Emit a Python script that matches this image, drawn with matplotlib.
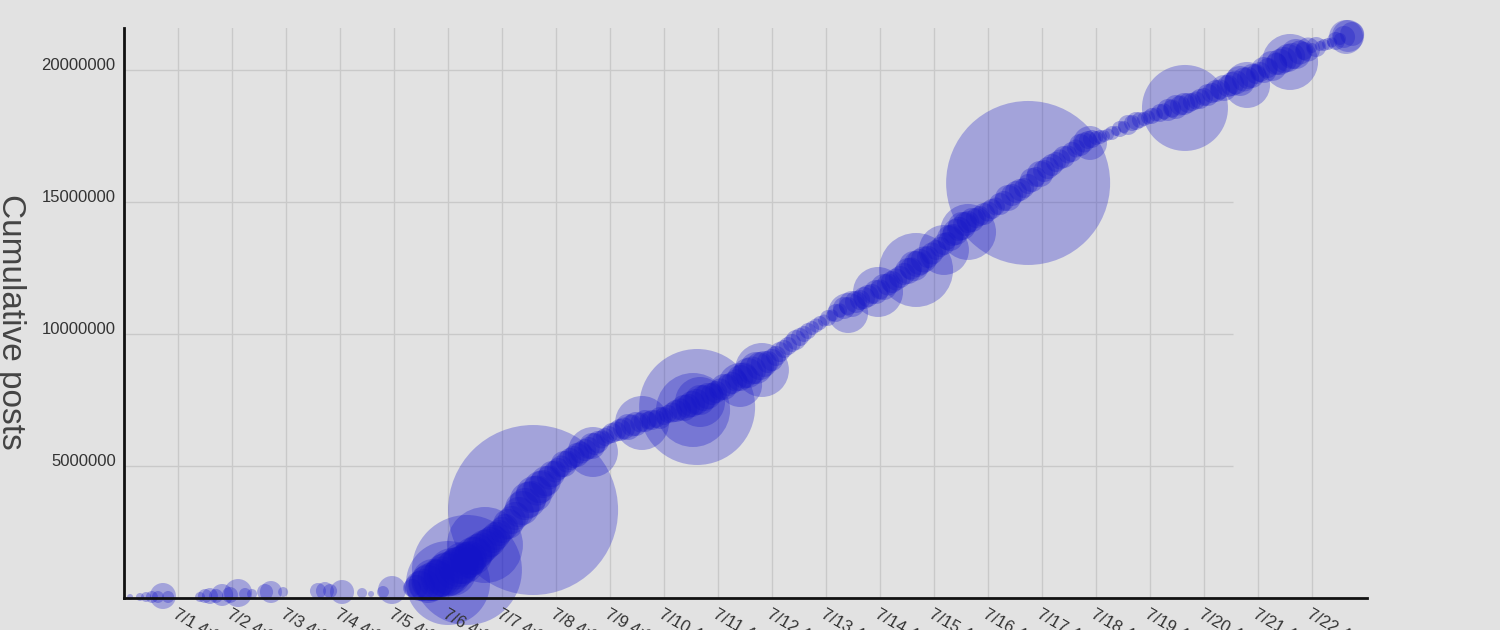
import matplotlib
matplotlib.use("Agg")
import matplotlib.pyplot as plt
import numpy as np

# ---- data: hours since 7/1 00:00, cumulative posts, bubble radius (px) ----
hours = [
    -17.3, -12.9, -10.2, -7.6, -4.9, -2.7, -0.4, 13.8, 16.0, 18.2, 20.9, 23.6, 27.1, 30.7,
    33.8, 36.9, 42.7, 45.3, 50.7, 66.2, 69.3, 71.6, 76.9, 85.8, 89.8, 95.1, 99.1,
    108.0, 111.6, 115.1, 117.3, 120.4, 123.1, 125.8, 128.4, 130.7, 132.9, 135.1, 137.3,
    140.0, 142.7, 145.3, 148.0, 150.7, 153.8, 156.9, 159.5, 162.2, 164.9, 167.5, 170.2,
    172.9, 175.5, 178.2, 181.3, 184.9, 188.0, 190.6, 193.8, 196.9, 200.4, 204.0, 207.5,
    211.5, 214.6, 218.2, 221.8, 225.3, 228.9, 232.4, 236.0, 239.5, 243.1, 246.6, 250.2,
    253.8, 257.3, 260.9, 264.4, 268.0, 271.5, 275.1, 278.6, 282.2, 285.8, 289.3, 292.9,
    296.4, 300.0, 303.5, 307.1, 310.6, 314.2, 317.7, 321.3, 324.9, 328.4, 331.1, 333.7,
    337.3, 340.9, 344.4, 347.1, 349.7, 352.4, 355.1, 358.6, 362.2, 365.7, 369.3, 372.9,
    376.4, 380.0, 383.5, 387.1, 390.6, 394.2, 397.7, 401.3, 404.9, 408.4, 412.0, 415.5,
    419.1, 422.6, 426.2, 429.7, 433.3, 436.8, 440.4, 444.0, 447.5, 451.1, 454.6, 458.2,
    461.7, 465.3, 468.8, 472.4, 476.0, 479.5, 483.1, 486.6, 490.2, 493.7, 497.3, 500.8,
    504.4, 508.0, 511.5, 515.1, 518.6, 522.2, 524.0, 525.8,
]
cum_posts = [
    38000, 38000, 38000, 38000, 38000, 76000, 38000, 38000, 76000, 76000, 76000, 114000,
    114000, 189000, 152000, 152000, 227000, 227000, 227000, 265000, 265000, 265000, 227000,
    189000, 152000, 227000, 303000,
    379000, 455000, 530000, 682000, 758000, 871000, 985000, 1174000, 1326000, 1439000,
    1591000, 1780000, 1970000, 2121000, 2348000, 2576000, 2803000, 3106000, 3409000,
    3712000, 3939000, 4205000, 4432000, 4697000, 4886000, 5076000, 5265000, 5417000,
    5606000, 5758000, 5909000, 6099000, 6250000, 6364000, 6477000, 6591000, 6705000,
    6742000, 6818000, 6970000, 7083000, 7197000, 7349000, 7500000, 7652000, 7803000,
    7992000, 8144000, 8333000, 8523000, 8712000, 8864000, 9015000, 9318000, 9545000,
    9773000, 10000000, 10227000, 10417000, 10606000, 10795000, 10985000, 11136000,
    11288000, 11439000, 11591000, 11780000, 11970000, 12159000, 12386000, 12576000,
    12727000, 12917000, 13182000, 13409000, 13636000, 13864000, 14091000, 14242000,
    14394000, 14546000, 14735000, 14924000, 15152000, 15379000, 15530000, 15833000,
    16061000, 16288000, 16515000, 16705000, 16894000, 17159000, 17349000, 17424000,
    17500000, 17614000, 17765000, 17917000, 18068000, 18144000, 18258000, 18371000,
    18485000, 18599000, 18712000, 18788000, 18902000, 19053000, 19205000, 19318000,
    19470000, 19583000, 19697000, 19849000, 20000000, 20152000, 20303000, 20455000,
    20606000, 20720000, 20833000, 20909000, 20985000, 21099000, 21250000, 21288000,
    21364000,
]
bubble_r = [
    3, 4, 5, 6, 6, 13, 6, 5, 7, 8, 7, 11, 8, 14, 6, 5, 8, 11, 5, 8, 9, 7, 12, 5, 3, 6, 14,
    9, 15, 19, 21, 19, 22, 24, 20, 21, 18, 19, 17, 16, 15, 14, 13, 15, 14, 17, 18, 18,
    16, 15, 13, 11, 13, 11, 12, 11, 13, 11, 9, 10, 11, 13, 12, 11, 10, 11, 9, 11, 13, 13,
    15, 13, 11, 13, 11, 13, 15, 16, 13, 11, 10, 9, 10, 8, 7, 7, 8, 9, 11, 13, 10, 11, 12,
    13, 11, 11, 13, 15, 13, 11, 10, 11, 13, 13, 14, 11, 10, 11, 10, 11, 13, 11, 10, 12, 13,
    11, 10, 11, 10, 11, 9, 7, 6, 7, 8, 10, 9, 7, 8, 9, 11, 12, 11, 9, 10, 11, 11, 13, 12, 15,
    11, 10, 13, 15, 13, 14, 15, 9, 5, 5, 6, 9, 11, 16, 12,
]

# in-between hours along the busy stretch
mid_hours = [
    109.8, 113.4, 116.2, 118.9, 121.8, 124.5, 127.1, 129.6, 131.8, 134.0,
    136.2, 138.7, 141.4, 144.0, 146.7, 149.4, 152.3, 155.4, 158.2, 160.9,
    163.6, 166.2, 168.9, 171.6, 174.2, 176.9, 179.8, 183.1, 186.5, 189.3,
    192.2, 195.4, 198.7, 202.2, 205.8, 209.5, 213.1, 216.4, 220.0, 223.6,
    227.1, 230.7, 234.2, 237.8, 241.3, 244.9, 248.4, 252.0, 255.6, 259.1,
    262.7, 266.2, 269.8, 273.3, 276.9, 280.4, 284.0, 287.6, 291.1, 294.7,
    298.2, 301.8, 305.3, 308.9, 312.4, 316.0, 319.5, 323.1, 326.7, 329.8,
    332.4, 335.5, 339.1, 342.7, 345.8, 348.4, 351.1, 353.8, 356.9, 360.4,
    364.0, 367.5, 371.1, 374.7, 378.2, 381.8, 385.3, 388.9, 392.4, 396.0,
    399.5, 403.1, 406.7, 410.2, 413.8, 417.3, 420.9, 424.4, 428.0, 431.5,
    435.1, 438.6, 442.2, 445.8, 449.3, 452.9, 456.4, 460.0, 463.5, 467.1,
    470.6, 474.2, 477.8, 481.3, 484.9, 488.4, 492.0, 495.5, 499.1, 502.6,
    506.2, 509.8, 513.3, 516.9, 520.4,
]
mid_posts = [
    417000, 492000, 606000, 720000, 815000, 928000, 1080000, 1250000, 1383000, 1515000,
    1686000, 1875000, 2046000, 2235000, 2462000, 2690000, 2955000, 3258000, 3561000, 3826000,
    4072000, 4318000, 4565000, 4792000, 4981000, 5171000, 5341000, 5512000, 5682000, 5833000,
    6004000, 6175000, 6307000, 6420000, 6534000, 6648000, 6724000, 6780000, 6894000, 7027000,
    7140000, 7273000, 7424000, 7576000, 7727000, 7898000, 8068000, 8239000, 8428000, 8617000,
    8788000, 8939000, 9167000, 9432000, 9659000, 9886000, 10114000, 10322000, 10511000, 10700000,
    10890000, 11061000, 11212000, 11364000, 11515000, 11686000, 11875000, 12065000, 12273000, 12481000,
    12652000, 12822000, 13050000, 13296000, 13523000, 13750000, 13977000, 14167000, 14318000, 14470000,
    14640000, 14830000, 15038000, 15265000, 15455000, 15682000, 15947000, 16174000, 16402000, 16610000,
    16800000, 17027000, 17254000, 17387000, 17462000, 17557000, 17690000, 17841000, 17992000, 18106000,
    18201000, 18314000, 18428000, 18542000, 18655000, 18750000, 18845000, 18977000, 19129000, 19262000,
    19394000, 19527000, 19640000, 19773000, 19924000, 20076000, 20227000, 20379000, 20530000, 20663000,
    20776000, 20871000, 20947000, 21042000, 21174000,
]
mid_r = [
    12, 16, 19, 19, 20, 22, 20, 19, 18, 17,
    17, 16, 15, 14, 13, 13, 14, 15, 16, 16,
    15, 14, 12, 11, 11, 11, 11, 11, 11, 11,
    9, 9, 10, 11, 11, 10, 9, 9, 9, 10,
    11, 12, 13, 13, 11, 11, 11, 11, 13, 14,
    14, 11, 10, 9, 9, 9, 8, 7, 6, 6,
    7, 9, 11, 11, 10, 10, 11, 11, 11, 11,
    13, 13, 11, 10, 9, 11, 12, 12, 12, 10,
    10, 9, 10, 11, 11, 10, 10, 11, 11, 10,
    9, 9, 10, 9, 7, 6, 5, 6, 8, 8,
    7, 7, 8, 9, 10, 10, 9, 9, 10, 10,
    11, 12, 12, 12, 10, 10, 11, 13, 13, 12,
    12, 10, 6, 5, 6,
]

# large, sparse bursts
burst_hours = [161.8, 132.4, 124.0, 140.4, 188.4, 210.2, 234.7, 232.9, 236.0, 253.8,
               263.5, 301.8, 315.1, 332.0, 344.4, 355.1, 381.8, 409.3, 451.5, 479.1,
               498.2, 523.1]
burst_posts = [3333000, 1061000, 568000, 2008000, 5530000, 6629000, 7235000, 7121000,
               7424000, 8068000, 8636000, 10795000, 11591000, 12424000, 13182000,
               13864000, 15720000, 17235000, 18561000, 19432000, 20303000, 21250000]
burst_r = [85, 55, 42, 38, 25, 27, 58, 37, 25, 22, 27, 20, 25, 37, 25, 28, 82, 17, 43,
           23, 28, 17]

tick_days = ["7/%d" % d for d in range(1, 23)]
tick_hours = [4 + 24 * i for i in range(len(tick_days))]
y_ticks = [5000000, 10000000, 15000000, 20000000]

# ---- figure ----
BG = "#e2e2e2"
W, H, DPI = 15.0, 6.3, 100
fig = plt.figure(figsize=(W, H), dpi=DPI, facecolor=BG)
ax = fig.add_axes([124 / 1500, 32 / 630, (1367 - 124) / 1500, (598 - 28) / 630])
ax.set_facecolor(BG)

ax.set_xlim(-20, 532.4)
ax.set_ylim(0, 21590000)

# grid
for th in tick_hours:
    ax.axvline(th, color="#c9c9c9", lw=1, zorder=0)
ax.hlines(y_ticks, -20, 473, color="#c9c9c9", lw=1, zorder=0)

def s_of(r):
    return (2 * np.asarray(r) * 72 / DPI) ** 2

color = "#1414c8"
ax.scatter(burst_hours, burst_posts, s=s_of(burst_r), color=color, alpha=0.3,
           edgecolors="none", clip_on=False, zorder=1)
ax.scatter(hours, cum_posts, s=s_of(bubble_r), color=color, alpha=0.3,
           edgecolors="none", clip_on=False, zorder=1)
ax.scatter(mid_hours, mid_posts, s=s_of(mid_r), color=color, alpha=0.3,
           edgecolors="none", clip_on=False, zorder=1)

for sp in ["top", "right"]:
    ax.spines[sp].set_visible(False)
for sp in ["left", "bottom"]:
    ax.spines[sp].set_linewidth(2)
    ax.spines[sp].set_color("#111111")
    ax.spines[sp].set_zorder(3)

ax.set_yticks(y_ticks)
ax.set_yticklabels([str(v) for v in y_ticks], fontsize=12, color="#333333",
                   family=["Liberation Sans", "DejaVu Sans"], va="baseline")
ax.tick_params(axis="y", length=0, pad=6)

ax.set_xticks(tick_hours)
ax.set_xticklabels([d + " 4:00 AM" for d in tick_days], fontsize=12, color="#333333",
                   family=["Liberation Sans", "DejaVu Sans"], rotation=-30,
                   ha="left", va="top", rotation_mode="anchor")
ax.tick_params(axis="x", length=0, pad=6)
for lab in ax.get_xticklabels():
    lab.set_x(lab.get_position()[0])

fig.text(10 / 1500, 1 - 322 / 630, "Cumulative posts", rotation=270, fontsize=24,
         color="#444444", family=["Liberation Sans", "DejaVu Sans"],
         ha="center", va="center")

fig.savefig("out.png", dpi=DPI, facecolor=BG)
